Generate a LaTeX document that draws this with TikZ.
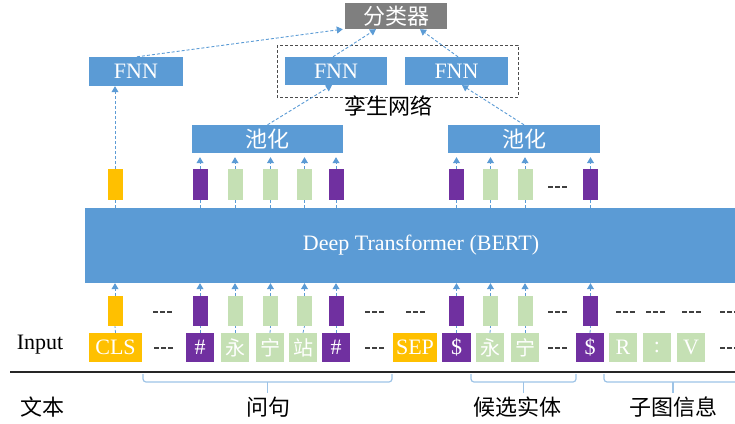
\documentclass[tikz,border=0pt]{standalone}
\usepackage{fontspec}
\setmainfont{Liberation Serif}
\newfontfamily\cjk{Noto Sans CJK SC}
\usetikzlibrary{arrows.meta,calc}
\definecolor{bblue}{HTML}{5B9BD5}
\definecolor{borange}{HTML}{FFC000}
\definecolor{bpurple}{HTML}{7030A0}
\definecolor{bgreen}{HTML}{C5E0B4}
\definecolor{bgray}{HTML}{7F7F7F}
\definecolor{bline}{HTML}{9DC3E6}
\tikzset{
  blk/.style={fill=bblue, text=white, inner sep=0pt, font=\fontsize{22}{22}\selectfont},
  tok/.style={minimum width=15pt, minimum height=31pt, inner sep=0pt},
  inbox/.style={minimum width=28pt, minimum height=29pt, inner sep=0pt, text=white, font=\fontsize{22}{22}\selectfont},
  org/.style={fill=borange}, pur/.style={fill=bpurple}, grn/.style={fill=bgreen},
  arr/.style={draw=bblue, dash pattern=on 3pt off 2pt, line width=0.9pt, -{Triangle[length=6pt,width=7pt]}},
  lnk/.style={draw=bblue, dash pattern=on 3pt off 2pt, line width=0.8pt},
  dots/.style={draw=black!75, line width=1.6pt, dash pattern=on 5pt off 2pt},
  brace/.style={draw=bline, line width=1.2pt, rounded corners=3pt},
  lbl/.style={font=\fontsize{22}{22}\selectfont\cjk, inner sep=0pt},
  cz/.style={font=\fontsize{20}{20}\selectfont\cjk}
}
\begin{document}
\begin{tikzpicture}[x=1pt,y=-1pt]
\useasboundingbox (0,0) rectangle (735,423);
% top
\node[blk, fill=bgray, minimum width=102pt, minimum height=26pt, font=\fontsize{22}{22}\selectfont\cjk] (cls) at (396,16) {分类器};
\draw[black!70, line width=1pt, dash pattern=on 3pt off 2pt] (277,45) rectangle (518,97);
\node[lbl] (siam) at (388,106) {孪生网络};
\node[blk, minimum width=94pt, minimum height=29pt] (fnnL) at (136,71.5) {FNN};
\node[blk, minimum width=102pt, minimum height=28pt] (fnnM) at (336,71) {FNN};
\node[blk, minimum width=103pt, minimum height=28pt] (fnnR) at (456.5,71) {FNN};
\node[blk, minimum width=151pt, minimum height=28pt, font=\fontsize{22}{22}\selectfont\cjk] (poolL) at (267.5,139) {池化};
\node[blk, minimum width=152pt, minimum height=28pt, font=\fontsize{22}{22}\selectfont\cjk] (poolR) at (524,139) {池化};
\node[blk, minimum width=672pt, minimum height=75pt] (bert) at (421,245.5) {Deep Transformer (BERT)};
% upper and lower tokens
\foreach \n/\x/\c in {0/115/org,1/200/pur,2/235/grn,3/270.5/grn,4/304.5/grn,5/336/pur,6/456.5/pur,7/490.5/grn,8/525/grn,9/590.5/pur}{
  \node[tok,\c] (u\n) at (\x,184.5) {};
  \node[tok,\c, minimum height=30pt] (l\n) at (\x,311) {};
}
% input row
\node[inbox, org, minimum width=53pt] (iCLS) at (115.5,347.5) {CLS};
\node[inbox, pur] (i1) at (200,347.5) {\#};
\node[inbox, grn, cz] (i2) at (235,347.5) {永};
\node[inbox, grn, cz] (i3) at (270,347.5) {宁};
\node[inbox, grn, cz] (i4) at (303,347.5) {站};
\node[inbox, pur] (i5) at (336,347.5) {\#};
\node[inbox, org, minimum width=44pt] (iSEP) at (415,347.5) {SEP};
\node[inbox, pur, minimum width=29pt] (i6) at (456.5,347.5) {\$};
\node[inbox, grn, cz] (i7) at (490,347.5) {永};
\node[inbox, grn, cz] (i8) at (525,347.5) {宁};
\node[inbox, pur] (i9) at (590,347.5) {\$};
\node[inbox, grn] (iR) at (623,347.5) {R};
\node[inbox, grn] (iC) at (657,347.5) {:};
\node[inbox, grn] (iV) at (691,347.5) {V};
\node[font=\fontsize{22}{22}\selectfont, inner sep=0pt] (inlbl) at (40,345) {Input};
% dashes
\foreach \a in {548}{\draw[dots] (\a,187) -- ++(19,0);}
\foreach \a in {153,365,406,548,616,646,682,720}{\draw[dots] (\a,312) -- ++(19,0);}
\foreach \a in {154,365,548,720}{\draw[dots] (\a,348) -- ++(19,0);}
% connectors
\draw[lnk] (iCLS.north) -- (l0.south);
\foreach \n in {1,...,9}{\draw[lnk] (i\n.north) -- (l\n.south);}
\foreach \n in {0,...,9}{
  \draw[arr] (l\n.north) -- (l\n.north |- bert.south);
  \draw[lnk] (u\n.south |- bert.north) -- (u\n.south);
}
\draw[arr] (u0.north) -- (u0.north |- fnnL.south);
\foreach \n in {1,...,5}{\draw[arr, shorten >=4pt] (u\n.north) -- (u\n.north |- poolL.south);}
\foreach \n in {6,...,9}{\draw[arr, shorten >=4pt] (u\n.north) -- (u\n.north |- poolR.south);}
\draw[arr] (poolL.north) -- ([xshift=-4pt]fnnM.south);
\draw[arr] (poolR.north) -- ([xshift=5.5pt]fnnR.south);
\draw[arr] ([xshift=1pt]fnnL.north) -- ([xshift=-2pt]cls.south west);
\draw[arr] ([xshift=-3pt]fnnM.north) -- ([xshift=-20pt]cls.south);
\draw[arr] ([xshift=1.5pt]fnnR.north) -- ([xshift=24pt]cls.south);
% baseline
\draw[black!85, line width=2pt] (10,372) -- (740,372);
% braces
\draw[brace] (143,374) -- (143,382) -- (392,382) -- (392,374);
\draw[brace] (267.5,382) -- (267.5,393);
\draw[brace] (471,374) -- (471,382) -- (576,382) -- (576,374);
\draw[brace] (523.5,382) -- (523.5,393);
\draw[brace] (604,374) -- (604,382) -- (742,382) -- (742,374);
\draw[brace] (673,382) -- (673,393);
\node[lbl] (tw) at (42,407) {文本};
\node[lbl] (tq) at (268,407) {问句};
\node[lbl] (te) at (517,407) {候选实体};
\node[lbl] (ts) at (673,407) {子图信息};
\end{tikzpicture}
\end{document}
